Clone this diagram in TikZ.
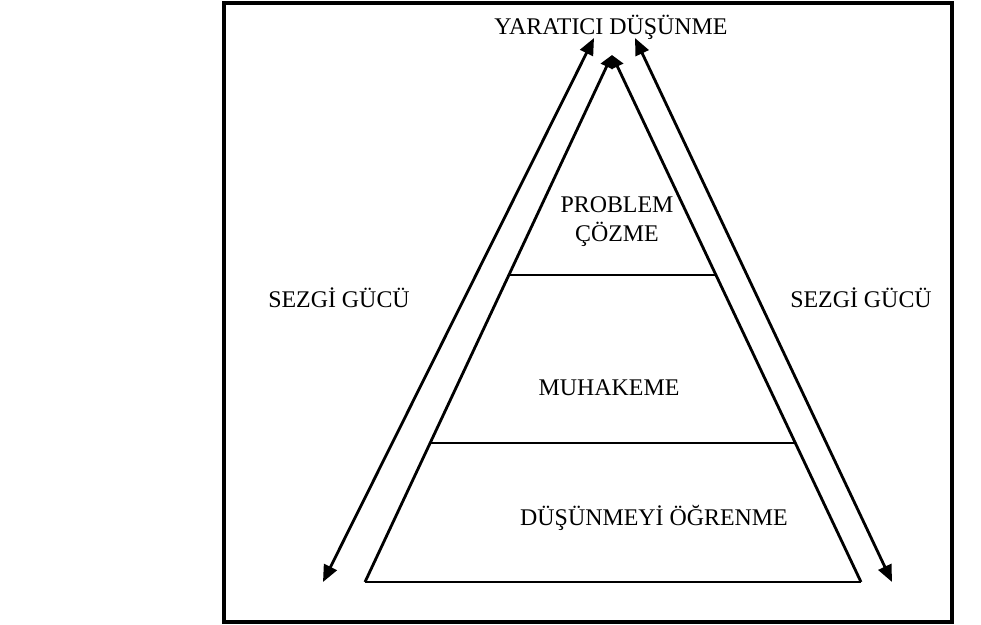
\documentclass[tikz,border=0pt]{standalone}
\usepackage{fontspec}
\setmainfont{Liberation Serif}
\usetikzlibrary{arrows.meta,calc}

\tikzset{
  lbl/.style={font=\fontsize{17}{20.5}\selectfont, align=center, inner sep=0pt},
  side/.style={line width=2pt},
  tip/.style={-{Triangle[length=9pt,width=9pt]}},
  both/.style={side, {Triangle[length=12pt,width=10pt]}-{Triangle[length=12pt,width=10pt]}},
}

\begin{document}
\begin{tikzpicture}[x=0.025cm,y=-0.025cm]
	\useasboundingbox (0,0) rectangle (981,625);
	\draw[line width=2.4pt] (224,3) rectangle (952,622);
	%
	\coordinate (apex) at (612,55);
	\coordinate (bl) at (365,582);
	\coordinate (br) at (861,582);
	\coordinate (l1) at ($(bl)!0.5825!(apex)$);
	\coordinate (r1) at ($(br)!0.5825!(apex)$);
	\coordinate (l2) at ($(bl)!0.2638!(apex)$);
	\coordinate (r2) at ($(br)!0.2638!(apex)$);
	\coordinate (lb) at (323,582);
	\coordinate (lt) at (594,38);
	\coordinate (rt) at (635,38);
	\coordinate (rb) at (892,582);
	%
	\node[lbl] (top) at (611,27) {YARATICI DÜŞÜNME};
	\node[lbl] (prob) at (617,222) {PROBLEM\\ÇÖZME};
	\node[lbl] (muh) at (609,388) {MUHAKEME};
	\node[lbl] (ogr) at (654,518) {DÜŞÜNMEYİ ÖĞRENME};
	\node[lbl] (sezl) at (339,298) {SEZGİ GÜCÜ};
	\node[lbl] (sezr) at (861,298) {SEZGİ GÜCÜ};
	%
	\draw[side, tip] (bl) -- (apex);
	\draw[side, tip] (br) -- (apex);
	\draw[side] (bl) -- (br);
	\draw[side] (l1) -- (r1);
	\draw[side] (l2) -- (r2);
	\draw[both] (lb) -- (lt);
	\draw[both] (rb) -- (rt);
\end{tikzpicture}
\end{document}
